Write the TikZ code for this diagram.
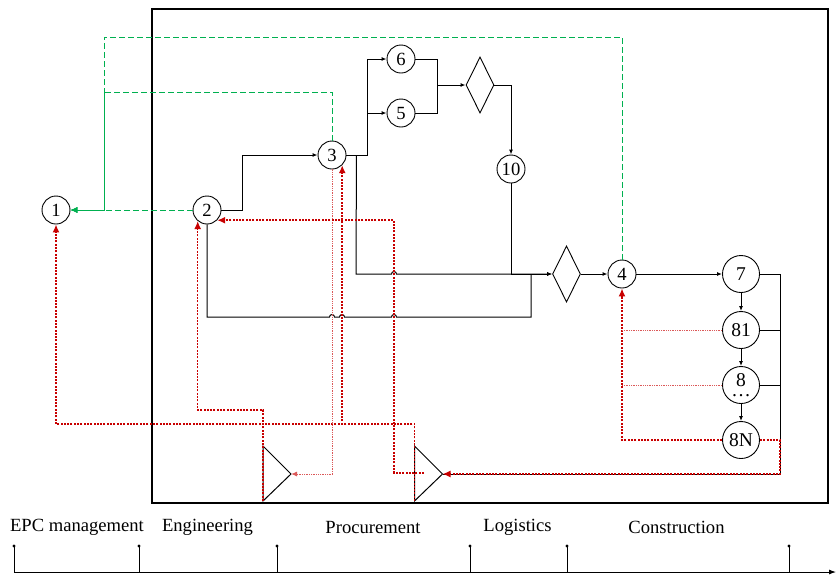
\documentclass[tikz,border=0pt]{standalone}
\usepackage{fontspec}
\setmainfont{Liberation Serif}
\usetikzlibrary{shapes.geometric,arrows.meta,calc}
\definecolor{rd}{RGB}{200,0,0}
\definecolor{gn}{RGB}{0,176,80}
\tikzset{
  blk/.style={draw=black, line width=1pt},
  barr/.style={-{Latex[length=5pt,width=4pt]}},
  rarr/.style={-{Latex[length=8pt,width=7pt]}},
  sarr/.style={-{Latex[length=6pt,width=5pt]}},
  garr/.style={-{Latex[length=7pt,width=6pt]}},
  circ/.style={circle, draw, line width=0.9pt, minimum size=28pt, inner sep=0pt, font=\fontsize{18.6}{20}\selectfont},
  bigcirc/.style={circ, minimum size=37pt, font=\fontsize{19.5}{21}\selectfont},
  dia/.style={diamond, draw, line width=0.9pt, aspect=0.5, minimum width=28pt, minimum height=56pt, inner sep=0pt},
  rdk/.style={draw=rd, line width=1.5pt, dash pattern=on 2pt off 1.3pt},
  rdt/.style={draw=rd!65, line width=1pt, dash pattern=on 1.3pt off 1pt},
  grn/.style={draw=gn, line width=1pt, dash pattern=on 6pt off 3pt},
  lbl/.style={font=\fontsize{18.6}{20}\selectfont, inner sep=0pt},
  tick/.style={draw=black, line width=0.8pt},
}
\begin{document}
\begin{tikzpicture}[x=1pt,y=-1pt]
\useasboundingbox (0,0) rectangle (837,574);
\draw[line width=1.2pt] (152,9) rectangle (828,503);

% nodes
\node[circ] (n1) at (56,210) {1};
\node[circ] (n2) at (207,210) {2};
\node[circ] (n3) at (332,155) {3};
\node[circ] (n6) at (401,59) {6};
\node[circ] (n5) at (401,113) {5};
\node[dia] (d1) at (480,85) {};
\node[circ] (n10) at (511,169) {10};
\node[dia] (d2) at (566.5,274) {};
\node[circ] (n4) at (622,274) {4};
\node[bigcirc] (n7) at (741,274) {7};
\node[bigcirc] (n81) at (741,330) {81};
\node[bigcirc, align=center] (n8) at (741,385) {8\\[-11pt]\dots};
\node[bigcirc] (n8N) at (741,440) {8N};

% triangles
\coordinate (t1a) at (291,474); \coordinate (t1t) at (263,446); \coordinate (t1b) at (263,501);
\coordinate (t2a) at (442.5,474); \coordinate (t2t) at (414.5,446); \coordinate (t2b) at (414.5,501);
\draw[blk] (t1t) -- (t1a) -- (t1b) -- cycle;
\draw[blk] (t2t) -- (t2a) -- (t2b) -- cycle;
\coordinate (rc) at (780,474);

% black connectors
\draw[blk,barr] (n2.east) -- ++(21,0) |- (n3.west);
\draw[blk,barr] (n3.east) -- ++(21,0) coordinate (s3) |- (n6.west);
\draw[blk,barr] (s3) |- (n5.west);
\draw[blk] (n6.east) -- ++(22,0) coordinate (m1) |- (n5.east);
\draw[blk,barr] (m1 |- d1) -- (d1.west);
\draw[blk,barr] (d1.east) -| (n10.north);
\draw[blk,barr] (n10.south) |- (d2.west);
\draw[blk,barr] ($(n3.east)+(10,0)$) -- (356,274) -- (391.5,274) arc[start angle=180,end angle=0,radius=2.5pt] -- (d2.west);
\draw[blk] (n2.south) |- (329.5,317) arc[start angle=180,end angle=0,radius=2.5pt]
  -- (339.5,317) arc[start angle=180,end angle=0,radius=2.5pt]
  -- (391.5,317) arc[start angle=180,end angle=0,radius=2.5pt]
  -- (531,317) -- (531,274);
\draw[blk,barr] (d2.east) -- (n4.west);
\draw[blk,barr] (n4.east) -- (n7.west);
\draw[blk,barr] (n7.south) -- (n81.north);
\draw[blk,barr] (n81.south) -- (n8.north);
\draw[blk,barr] (n8.south) -- (n8N.north);
\draw[blk] (n7.east) -| (rc) -- (t2a);
\draw[blk] (n81.east) -- (n81 -| rc);
\draw[blk] (n8.east) -- (n8 -| rc);

% green connectors
\draw[grn,garr] (n2.west) -- (n1.east);
\draw[grn,garr] (n3.north) |- (104,92) |- (n1.east);
\draw[grn,garr] (n4.north) |- (104,37) |- (n1.east);

% red connectors
\draw[rdk,rarr] (t2b) -- ++(0,-77) -| (n1.south);
\draw[rdk,rarr] (t2b) -- ++(0,-77) -| (n3.south east);
\draw[rdk,rarr] (t1b) -- ++(0,-91) -| (n2.230);
\draw[rdt,sarr] (n3.south) |- (t1a);
\coordinate (t2s) at (424,473);
\draw[rdk,rarr] (t2s) -- (394,473) |- (n2.-45);
\draw[rdk,rarr] (n8N.east) -| (rc) -- (t2a);
\draw[rdk,rarr] (n8N.west) -| (n4.south);
\draw[rdt] (n81.west) -- (n81 -| n4);
\draw[rdt] (n8.west) -- (n8 -| n4);

% timeline
\coordinate (ax0) at (14,572);
\coordinate (ax1) at (836,572);
\draw[line width=0.9pt,-{Latex[length=7pt,width=5pt]}] (ax0) -- (ax1);
\foreach \x in {14,139,277,470,567,789}{
  \draw[tick] (\x,572) -- (\x,546);
  \fill (\x,546) circle[radius=1.6pt];
}
\node[lbl] (l1) at (77,527) {EPC management};
\node[lbl] (l2) at (207.5,527) {Engineering};
\node[lbl] (l3) at (373,527) {Procurement};
\node[lbl] (l4) at (517.5,527) {Logistics};
\node[lbl] (l5) at (676.5,527) {Construction};
\end{tikzpicture}
\end{document}
